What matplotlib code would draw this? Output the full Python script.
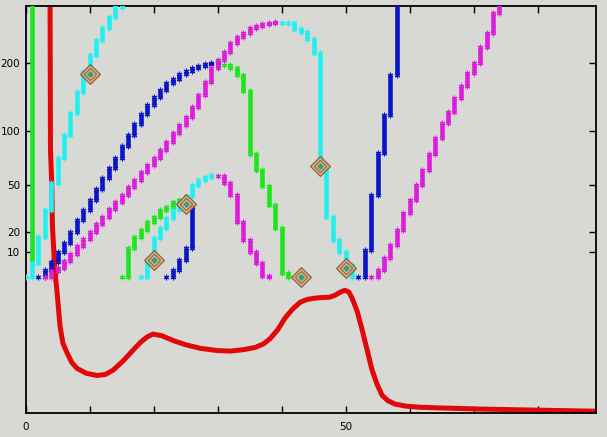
import numpy as np
import matplotlib
matplotlib.use("Agg")
import matplotlib.pyplot as plt

# step series: first x position, then one value per integer x
green1_x0 = 0
green1_y = [400, 6.6]
cyan1_x0 = 0
cyan1_y = [0, 5.3, 17.3, 32.6, 51.3, 72.3, 95.5, 121.8, 151, 184, 216, 248, 276, 305, 333, 380]
blue1_x0 = 2
blue1_y = [0, 2.5, 5.8, 10.1, 14.4, 20, 26.6, 32.6, 39, 46.8, 55.2, 63.6, 72.3, 84, 96, 108,
           120, 132, 144, 155, 165, 173, 180, 186, 191, 195, 198, 200, 202]
green2_x0 = 31
green2_y = [197, 191, 179, 153, 76, 62, 49, 36, 22, 1.3, 0]
magenta1_x0 = 3
magenta1_y = [0, 2, 3.3, 6.2, 9.2, 12.9, 16.3, 20, 24.3, 28.3, 33.2, 37.7, 42.5, 48.3, 53.6,
              60.2, 66.1, 72.3, 80, 88, 97.7, 106.9, 116.7, 129.7, 146.8, 167, 191, 206, 222,
              241.5, 255, 264, 276.5, 281.5, 286.6, 289, 291.7]
cyan2_x0 = 40
cyan2_y = [289, 288, 273, 266.7, 251, 220, 64.5, 28.3, 15.8, 10, 4.5, 0]
green3_x0 = 15
green3_y = [0, 12, 17.3, 21, 25.4, 28.3, 32.6, 34.5, 37.7, 39]
cyan3_x0 = 18
cyan3_y = [0, 5.8, 16.9, 22.1, 27.7, 32.6, 37.1, 41.8, 50, 53.6, 56, 57.6]
magenta2_x0 = 30
magenta2_y = [56.9, 51.3, 42.5, 25.4, 15.8, 10, 5.3, 0.3, 0]
blue2_x0 = 22
blue2_y = [0, 2.5, 6.6, 12, 34.5]
blue3_x0 = 52
blue3_y = [0, 11, 42.5, 77, 119, 179, 400]
magenta3_x0 = 54
magenta3_y = [0, 2.5, 7.5, 13.4, 21, 30.7, 39, 49.7, 61.8, 76, 92.3, 109.3, 123, 142.4, 160.7,
              182.3, 200, 232.8, 264, 315.5, 400]

red_x = [3.83, 3.9, 4.1, 4.2, 4.45, 4.7, 4.9, 5.4, 5.85, 6.5, 7.2, 8.05, 9.5, 11.2, 12.5, 13.7,
         15.2, 16.8, 18.0, 19.0, 19.9, 21.3, 23.0, 25.0, 27.3, 30.0, 32.0, 34.0, 35.9, 37.2, 38.2,
         39.4, 40.5, 41.7, 42.9, 44.0, 45.2, 46.4, 47.5, 48.4, 49.1, 49.9, 50.5, 51.0, 51.8, 52.6,
         53.4, 54.1, 54.9, 55.7, 56.6, 57.7, 59.5, 61.6, 65, 71, 80, 89]
red_y = [400, 80, 51, 24, 8.7, -0.5, -4.9, -15.7, -19.8, -21.9, -23.8, -25, -25.9, -26.3, -26.1,
         -25.3, -23.6, -21.3, -19.5, -18.3, -17.6, -18.0, -19.1, -20.1, -20.9, -21.4, -21.5, -21.2,
         -20.7, -19.9, -18.7, -16.5, -13.5, -10.9, -8.8, -7.9, -7.5, -7.3, -7.2, -6.5, -5.6, -4.9,
         -5.5, -7.5, -11.5, -16.7, -21.5, -25.2, -27.8, -29.6, -30.4, -30.9, -31.2, -31.35, -31.45,
         -31.6, -31.75, -31.9]

diamond_x = [10, 20, 25, 43, 46, 50]
diamond_y = [181, 6.6, 36.4, 0, 65, 3.3]

y_ticks = [10, 20, 50, 100, 200]
x_ticks = [0, 10, 20, 30, 40, 50, 60, 70, 80]
x_labels = ["0", "", "", "", "", "50", "", "", ""]

BG = "#d8d9d5"
GREEN = "#1ee61e"
CYAN = "#22f0f0"
BLUE = "#0a14c8"
MAGENTA = "#dc1edc"
RED = "#e00808"


def fwd(y):
    return np.log(np.clip(np.asarray(y, dtype=float) + 50, 1e-3, None))


def inv(v):
    return np.exp(v) - 50


def stair(ax, x0, vals, color):
    x = x0 + np.arange(len(vals))
    v = np.array(vals, dtype=float)
    ax.vlines(x[1:], v[:-1], v[1:], colors=color, lw=3.3, zorder=3)
    mx = np.concatenate([x, x[1:]])
    my = np.concatenate([v, v[:-1]])
    ax.plot(mx, my, ls="none", marker=(6, 2, 0), ms=4, mew=0.8, color=color, zorder=3)


fig = plt.figure(figsize=(6.07, 4.37), dpi=100, facecolor=BG)
ax = fig.add_axes([25.5 / 607, 1 - 412.7 / 437, (596 - 25.5) / 607, (412.7 - 6) / 437])
ax.set_facecolor(BG)
ax.set_yscale("function", functions=(fwd, inv))

ax.plot(red_x, red_y, color=RED, lw=3.6, solid_capstyle="round", solid_joinstyle="round", zorder=2)

stair(ax, green1_x0, green1_y, GREEN)
stair(ax, green2_x0, green2_y, GREEN)
stair(ax, green3_x0, green3_y, GREEN)
stair(ax, cyan1_x0, cyan1_y, CYAN)
stair(ax, cyan2_x0, cyan2_y, CYAN)
stair(ax, cyan3_x0, cyan3_y, CYAN)
stair(ax, blue1_x0, blue1_y, BLUE)
stair(ax, blue2_x0, blue2_y, BLUE)
stair(ax, blue3_x0, blue3_y, BLUE)
stair(ax, magenta1_x0, magenta1_y, MAGENTA)
stair(ax, magenta2_x0, magenta2_y, MAGENTA)
stair(ax, magenta3_x0, magenta3_y, MAGENTA)

# nested diamond markers
ax.plot(diamond_x, diamond_y, ls="none", marker="D", ms=10.5, mfc="#e0a070", mec="#6a5030",
        mew=0.8, alpha=0.85, zorder=5)
ax.plot(diamond_x, diamond_y, ls="none", marker="D", ms=6.5, mfc="#eec08c", mec="#806040",
        mew=0.8, alpha=0.9, zorder=6)
ax.plot(diamond_x, diamond_y, ls="none", marker="D", ms=3.2, mfc="#30a080", mec="#30a080",
        mew=0.5, zorder=7)

ax.set_xlim(0, 89.1)
ax.set_ylim(-32.1, 335.5)
ax.set_xticks(x_ticks)
ax.set_xticklabels(x_labels)
ax.set_yticks(y_ticks)
ax.set_yticklabels([str(t) for t in y_ticks])
ax.minorticks_off()
ax.tick_params(direction="in", length=5, width=1, top=True, right=True,
               labelsize=7.5, colors="black")
ax.tick_params(axis="x", pad=7)
ax.tick_params(axis="y", pad=4)
for s in ax.spines.values():
    s.set_linewidth(1.3)
    s.set_color("black")

fig.savefig("out.png", dpi=100, facecolor=BG)
